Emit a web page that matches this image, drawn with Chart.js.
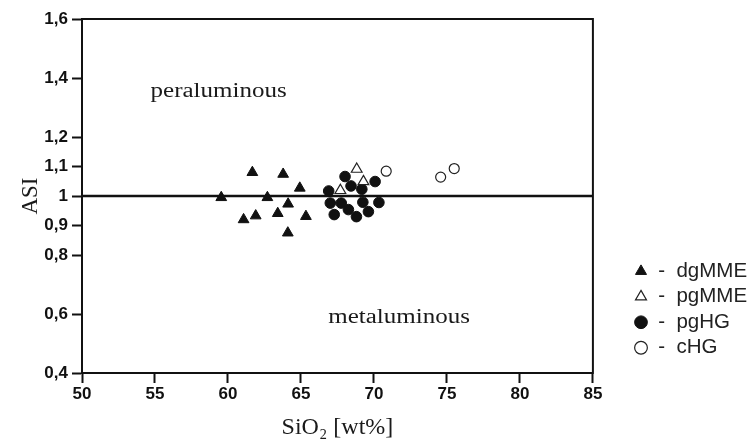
<!DOCTYPE html>
<html>
<head>
<meta charset="utf-8">
<script src="https://cdn.jsdelivr.net/npm/chart.js@4.4.1/dist/chart.umd.min.js"></script>
<style>
  html, body { margin: 0; padding: 0; background: #ffffff; }
  #wrap { width: 754px; height: 442px; }
</style>
</head>
<body>
<div id="wrap"><canvas id="c" width="754" height="442"></canvas></div>
<script>
// ---- Data ----
const seriesNames = ['-  dgMME', '-  pgMME', '-  pgHG', '-  cHG'];

const dgMME_x = [59.54, 61.67, 63.78, 64.92, 62.70, 64.12, 61.07, 61.90, 63.41, 65.34, 64.10];
const dgMME_y = [0.995, 1.080, 1.074, 1.027, 0.995, 0.973, 0.920, 0.933, 0.941, 0.931, 0.875];

const pgMME_x = [68.82, 69.28, 67.70];
const pgMME_y = [1.091, 1.049, 1.019];

const pgHG_x = [68.02, 68.43, 69.17, 70.08, 66.90, 67.01, 67.76, 69.24, 70.34, 67.28, 68.25, 68.80, 69.62];
const pgHG_y = [1.066, 1.034, 1.023, 1.049, 1.017, 0.976, 0.976, 0.979, 0.978, 0.937, 0.954, 0.930, 0.947];

const cHG_x = [70.84, 74.57, 75.50];
const cHG_y = [1.084, 1.064, 1.093];

// ASI = 1 boundary line
const boundaryX = [50, 85];
const boundaryY = [1, 1];

// Axis ticks
const xTicks = [50, 55, 60, 65, 70, 75, 80, 85];
const yTicks = [0.4, 0.6, 0.8, 0.9, 1, 1.1, 1.2, 1.4, 1.6];

// Field labels (text, anchored at data coordinates)
const regionLabels = ['peraluminous', 'metaluminous'];
const regionX = [54.7, 66.87];
const regionY = [1.336, 0.571];

// ---- helpers ----
const pts = (xs, ys) => xs.map((x, i) => ({ x: x, y: ys[i] }));
const fmtComma = v => String(v).replace('.', ',');

const framePlugin = {
  id: 'frame',
  afterDraw(chart) {
    const a = chart.chartArea, ctx = chart.ctx;
    ctx.save();
    ctx.strokeStyle = '#111';
    ctx.lineWidth = 2;
    ctx.strokeRect(a.left, a.top, a.right - a.left, a.bottom - a.top);
    ctx.restore();
  }
};

const regionPlugin = {
  id: 'regions',
  afterDatasetsDraw(chart) {
    const ctx = chart.ctx, xs = chart.scales.x, ys = chart.scales.y;
    ctx.save();
    ctx.fillStyle = '#1a1a1a';
    ctx.font = '20px "Liberation Serif", "Times New Roman", serif';
    ctx.textBaseline = 'alphabetic';
    ctx.textAlign = 'left';
    regionLabels.forEach((t, i) => {
      const px = xs.getPixelForValue(regionX[i]);
      const py = ys.getPixelForValue(regionY[i]);
      ctx.save();
      ctx.translate(px, py);
      ctx.scale(1.25, 1);
      ctx.fillText(t, 0, 0);
      ctx.restore();
    });
    ctx.restore();
  }
};

const legendShift = {
  id: 'legendShift',
  afterLayout(chart) {
    const lg = chart.legend;
    if (!lg) return;
    const w = lg.width, h = lg.height;
    lg.left = 629; lg.right = lg.left + w;
    lg.top = lg.top - 10; lg.bottom = lg.top + h;
  }
};

const tickFont = { family: '"Liberation Sans", Arial, sans-serif', size: 17, weight: 'bold' };

new Chart(document.getElementById('c'), {
  type: 'scatter',
  data: {
    datasets: [
      { label: seriesNames[0], data: pts(dgMME_x, dgMME_y), pointStyle: 'triangle',
        pointRadius: 6.2, backgroundColor: '#111', borderColor: '#111', borderWidth: 1 },
      { label: seriesNames[1], data: pts(pgMME_x, pgMME_y), pointStyle: 'triangle',
        pointRadius: 6.2, backgroundColor: '#fff', borderColor: '#222', borderWidth: 1.2 },
      { label: seriesNames[2], data: pts(pgHG_x, pgHG_y), pointStyle: 'circle',
        pointRadius: 5.3, backgroundColor: '#111', borderColor: '#111', borderWidth: 1 },
      { label: seriesNames[3], data: pts(cHG_x, cHG_y), pointStyle: 'circle',
        pointRadius: 5, backgroundColor: '#fff', borderColor: '#222', borderWidth: 1.2 },
      { type: 'line', label: 'boundary', data: pts(boundaryX, boundaryY), borderColor: '#111',
        borderWidth: 2.5, pointRadius: 0, showLine: true, fill: false, order: 10 }
    ]
  },
  options: {
    responsive: false,
    animation: false,
    layout: { padding: { top: 19, right: 33, bottom: 0, left: 0 } },
    plugins: {
      tooltip: { enabled: false },
      legend: {
        position: 'right',
        align: 'end',
        fullSize: false,
        labels: {
          usePointStyle: true,
          boxWidth: 14,
          boxHeight: 9,
          padding: 5,
          color: '#222',
          font: { family: '"Liberation Sans", Arial, sans-serif', size: 20.5 },
          filter: item => item.text !== 'boundary'
        }
      }
    },
    scales: {
      x: {
        type: 'linear', min: 50, max: 85,
        afterBuildTicks: s => { s.ticks = xTicks.map(v => ({ value: v })); },
        afterFit: s => { s.height = 69; },
        grid: { drawOnChartArea: false, drawTicks: true, tickLength: 10, tickWidth: 2, tickColor: '#111' },
        border: { display: true, color: '#111', width: 2 },
        ticks: { font: tickFont, color: '#111', padding: 1, maxRotation: 0 },
        title: { display: true, text: 'SiO₂ [wt%]', color: '#1a1a1a',
          font: { family: '"Liberation Serif", "Times New Roman", serif', size: 24 },
          padding: { top: 0, bottom: 0 } }
      },
      y: {
        type: 'linear', min: 0.4, max: 1.6,
        afterBuildTicks: s => { s.ticks = yTicks.map(v => ({ value: v })); },
        afterFit: s => { s.width = 82; },
        grid: { drawOnChartArea: false, drawTicks: true, tickLength: 10, tickWidth: 2, tickColor: '#111' },
        border: { display: true, color: '#111', width: 2 },
        ticks: { font: tickFont, color: '#111', padding: 4, callback: v => fmtComma(v) },
        title: { display: true, text: 'ASI', color: '#1a1a1a',
          font: { family: '"Liberation Serif", "Times New Roman", serif', size: 23 },
          padding: { top: 17, bottom: 17 } }
      }
    }
  },
  plugins: [framePlugin, regionPlugin, legendShift]
});
</script>
</body>
</html>
